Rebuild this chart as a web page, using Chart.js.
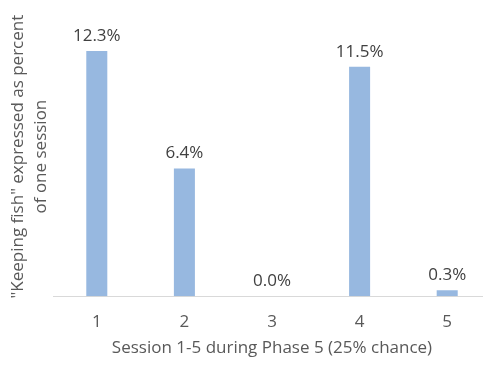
<!DOCTYPE html>
<html>
<head>
<meta charset="utf-8">
<script src="https://cdn.jsdelivr.net/npm/chart.js@4/dist/chart.umd.min.js"></script>
<style>
html,body{margin:0;padding:0;background:#fff;overflow:hidden;width:483px;height:374px;}
#wrap{width:500px;height:374px;position:relative;}
</style>
</head>
<body>
<div id="wrap"><canvas id="c"></canvas></div>
<script>
const categories = ["1", "2", "3", "4", "5"];
const values = [12.3, 6.4, 0.0, 11.5, 0.3];
const valueLabels = ["12.3%", "6.4%", "0.0%", "11.5%", "0.3%"];
const xTitle = "Session 1-5 during Phase 5 (25% chance)";
const yTitleLines = ["\"Keeping fish\" expressed as percent", "of one session"];

const FONT = "'Open Sans', sans-serif";

const labelPlugin = {
  id: 'valueLabels',
  afterDatasetsDraw(chart) {
    const ctx = chart.ctx;
    const meta = chart.getDatasetMeta(0);
    ctx.save();
    ctx.font = "17px " + FONT;
    ctx.fillStyle = "#404040";
    ctx.textAlign = "center";
    ctx.textBaseline = "middle";
    meta.data.forEach((bar, i) => {
      ctx.fillText(valueLabels[i], bar.x, bar.y - 15);
    });
    ctx.restore();
  }
};

const yTitlePlugin = {
  id: 'yTitle',
  afterDraw(chart) {
    const ctx = chart.ctx;
    const area = chart.chartArea;
    const cy = (area.top + area.bottom) / 2;
    ctx.save();
    ctx.font = "17px " + FONT;
    ctx.fillStyle = "#595959";
    ctx.textAlign = "center";
    ctx.textBaseline = "middle";
    ctx.translate(0, cy);
    ctx.rotate(-Math.PI / 2);
    ctx.fillText(yTitleLines[0], 0, 18);
    ctx.fillText(yTitleLines[1], 0, 41);
    ctx.restore();
  }
};

new Chart(document.getElementById('c'), {
  type: 'bar',
  data: {
    labels: categories,
    datasets: [{
      data: values,
      backgroundColor: '#97b8e0',
      borderWidth: 0,
      barPercentage: 0.48,
      categoryPercentage: 0.5
    }]
  },
  options: {
    responsive: true,
    maintainAspectRatio: false,
    animation: false,
    events: [],
    layout: { padding: { left: 53, right: 9, top: 17, bottom: 16 } },
    plugins: { legend: { display: false }, tooltip: { enabled: false } },
    scales: {
      x: {
        grid: { display: false, drawTicks: false },
        border: { display: true, color: '#d9d9d9', width: 1 },
        ticks: { color: '#595959', font: { family: FONT, size: 17 }, padding: 16 },
        title: { display: true, text: xTitle, color: '#595959', font: { family: FONT, size: 17 }, padding: { top: -11, bottom: 0 } }
      },
      y: {
        display: false,
        min: 0,
        max: 14
      }
    }
  },
  plugins: [labelPlugin, yTitlePlugin]
});
</script>
</body>
</html>
